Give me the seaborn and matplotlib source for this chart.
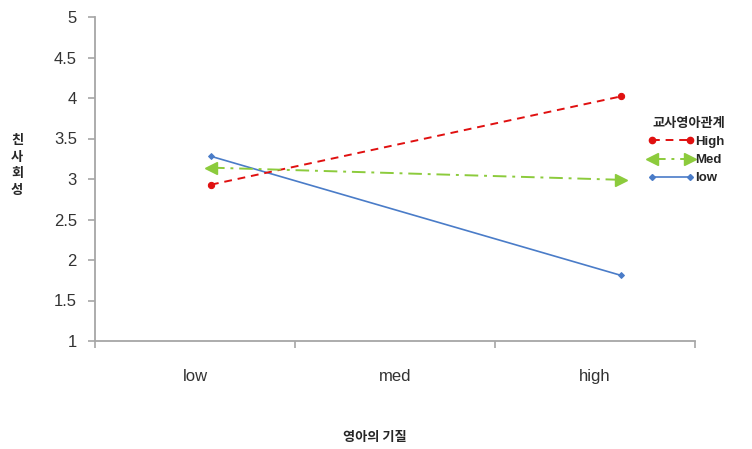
import numpy as np
import pandas as pd
import matplotlib
matplotlib.use('Agg')
import matplotlib.pyplot as plt
import seaborn as sns
from matplotlib.lines import Line2D
from matplotlib.legend_handler import HandlerLine2D

# dados
categorias = ['low', 'med', 'high']
x_pontos = [0.08, 2.13]          # posição dos pontos nas extremidades
serie_high = [2.93, 4.02]
serie_med = [3.14, 2.99]
serie_low = [3.28, 1.81]
legenda_nomes = ['High', 'Med', 'low']
titulo_legenda = '교사영아관계'
y_ticks = [1, 1.5, 2, 2.5, 3, 3.5, 4, 4.5, 5]
y_tick_labels = ['1', '1.5', '2', '2.5', '3', '3.5', '4', '4.5', '5']

sns.set_style('white')
plt.rcParams['font.family'] = ['Liberation Sans', 'Noto Sans CJK KR', 'DejaVu Sans']
KR = ['Noto Sans CJK KR', 'DejaVu Sans']

cor_high = '#E01010'
cor_med = '#8CCB3C'
cor_low = '#4A7CC8'
cor_eixo = '#A6A6A6'

fig = plt.figure(figsize=(7.52, 4.49), dpi=100)
ax = fig.add_axes([95 / 752, 1 - 341 / 449, 600 / 752, 324 / 449])

sns.lineplot(x=x_pontos, y=serie_low, ax=ax, color=cor_low, lw=1.2,
             marker='D', markersize=3, markeredgecolor=cor_low)
sns.lineplot(x=x_pontos, y=serie_high, ax=ax, color=cor_high, lw=1.4,
             linestyle=(0, (4, 3)), marker='o', markersize=4.5, markeredgecolor=cor_high)
sns.lineplot(x=x_pontos, y=serie_med, ax=ax, color=cor_med, lw=1.4,
             linestyle=(0, (7, 3, 1.5, 3)))
ax.plot([x_pontos[0]], [serie_med[0]], marker='<', ms=9, color=cor_med, ls='none')
ax.plot([x_pontos[1]], [serie_med[1]], marker='>', ms=9, color=cor_med, ls='none')

ax.set_xlim(-0.5, 2.5)
ax.set_ylim(1, 5)
ax.set_yticks(y_ticks)
ax.set_yticklabels(y_tick_labels, fontsize=12, color='#333333')
ax.set_xticks(range(len(categorias)))
ax.set_xticklabels(categorias, fontsize=12, color='#333333')
ax.set_xticks([-0.5, 0.5, 1.5, 2.5], minor=True)
ax.tick_params(axis='x', which='major', bottom=True, length=0, pad=20)
ax.tick_params(axis='x', which='minor', bottom=True, length=5, width=1.2,
               color=cor_eixo, direction='out')
ax.tick_params(axis='y', left=True, length=5, width=1.2, color=cor_eixo,
               direction='out', pad=8)

for s in ['top', 'right']:
    ax.spines[s].set_visible(False)
for s in ['left', 'bottom']:
    ax.spines[s].set_color(cor_eixo)
    ax.spines[s].set_linewidth(1.3)

fig.text(375 / 752, 1 - 437 / 449, '영아의 기질', family=KR, fontsize=9.5,
         fontweight='bold', ha='center', va='center')
fig.text(17 / 752, 1 - 165 / 449, '친\n사\n회\n성', family=KR, fontsize=9.5,
         fontweight='bold', ha='center', va='center', linespacing=1.25)


class SetaHandler(HandlerLine2D):
    def create_artists(self, legend, orig_handle, xdescent, ydescent, width,
                       height, fontsize, trans):
        arts = super().create_artists(legend, orig_handle, xdescent, ydescent,
                                      width, height, fontsize, trans)
        linha = arts[0]
        xd = linha.get_xdata()
        y = linha.get_ydata()[0]
        esq = Line2D([xd[0]], [y], marker='<', ms=9, color=cor_med, ls='none', transform=trans)
        dir_ = Line2D([xd[-1]], [y], marker='>', ms=9, color=cor_med, ls='none', transform=trans)
        return [linha, esq, dir_]


h_high = Line2D([], [], color=cor_high, lw=1.4, ls=(0, (4, 3)), marker='o', ms=4.5)
h_med = Line2D([], [], color=cor_med, lw=1.4, ls=(0, (7, 3, 1.5, 3)))
h_low = Line2D([], [], color=cor_low, lw=1.2, marker='D', ms=3)

leg = fig.legend([h_high, h_med, h_low], legenda_nomes, title=titulo_legenda,
                 loc='upper left', bbox_to_anchor=(636 / 752, 1 - 104 / 449),
                 frameon=False, numpoints=2, handlelength=3.5, handletextpad=0.1,
                 labelspacing=0.45, fontsize=9.5, title_fontsize=9.5,
                 handler_map={h_med: SetaHandler(numpoints=2)})
leg.get_title().set_fontweight('bold')
leg.get_title().set_family(KR)
leg._legend_box.align = 'right'
for t in leg.get_texts():
    t.set_fontweight('bold')

fig.savefig('out.png', dpi=100)
